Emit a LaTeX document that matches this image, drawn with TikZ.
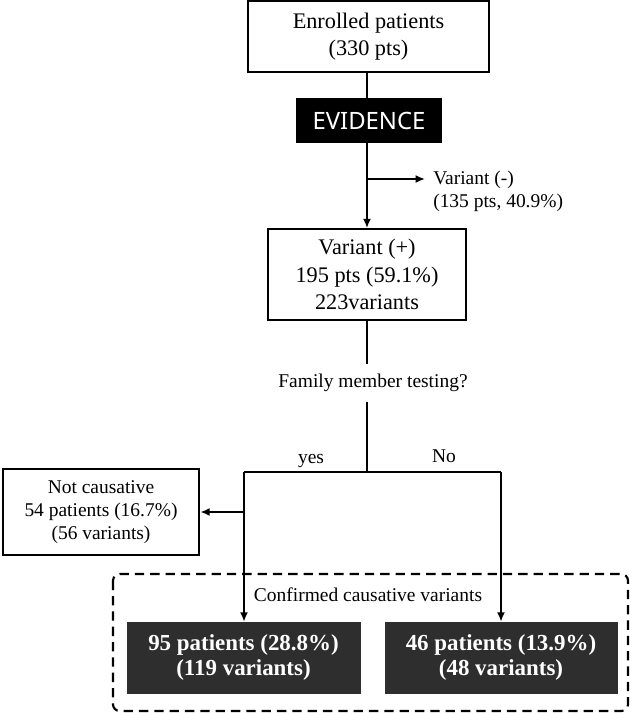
\documentclass[tikz,border=0pt]{standalone}
\usepackage{fontspec}
\setmainfont{Liberation Serif}
\newfontfamily\evfont{Noto Sans}
\usepackage{tikz}
\usetikzlibrary{arrows.meta,positioning}

\newcommand{\bigtxt}{\fontsize{16.7}{20.5}\selectfont}
\newcommand{\smalltxt}{\fontsize{14.6}{17}\selectfont}

\begin{document}
\begin{tikzpicture}
		[x=0.75pt,y=-0.75pt,
		box/.style={draw,line width=1.6pt,align=center,inner sep=0pt},
		darkbox/.style={fill=black!82,draw=black!82,text=white,align=center,inner sep=0pt,
			font=\fontsize{17.2}{19}\selectfont\bfseries,minimum height=53.25pt},
		lbl/.style={align=center,inner sep=0pt,font=\smalltxt},
		line/.style={line width=1.6pt},
		arr/.style={line width=1.6pt,-{Latex[length=7pt,width=6pt]}}]
		\useasboundingbox (0,0) rectangle (632,713);
		% top part
		\node[box,font=\bigtxt,minimum width=181pt,minimum height=53pt] (enrolled) at (368.5,36.5)
			{Enrolled patients\\(330 pts)};
		\node[fill=black,text=white,inner sep=0pt,minimum width=109.5pt,minimum height=33.75pt,
			font=\evfont\bfseries\fontsize{17.9}{20}\selectfont] (evidence) at (369,120.5) {EVIDENCE};
		\node[box,font=\bigtxt,minimum width=149pt,minimum height=68pt] (varplus) at (367,274.5)
			{Variant (+)\\195 pts (59.1\%)\\223variants};
		\node[lbl,align=left,anchor=west] (varminus) at (433,191)
			{Variant (-)\\(135 pts, 40.9\%)};
		\coordinate (split1) at (367,179);
		\coordinate (minustip) at (425,179);
		\draw[line] (enrolled.south -| split1) -- (split1 |- evidence.north);
		\draw[line] (split1 |- evidence.south) -- (split1);
		\draw[arr] (split1) -- (varplus.north);
		\draw[arr] (split1) -- (minustip);
		% family testing
		\node[lbl] (family) at (373,383) {Family member testing?};
		\coordinate (split2) at (367,472);
		\coordinate (yes) at (244,472);
		\coordinate (no) at (501,472);
		\coordinate (yesmid) at (244,512);
		\draw[line] (varplus.south) -- (367,364);
		\draw[line] (367,402) -- (split2);
		\draw[line] (yes) -- (no);
		\node[lbl,anchor=base] (yeslbl) at (311,463) {yes};
		\node[lbl,anchor=base] (nolbl) at (444,462) {No};
		\node[box,font=\smalltxt,minimum width=147.5pt,minimum height=65pt] (notcaus) at (101,512)
			{Not causative\\54 patients (16.7\%)\\(56 variants)};
		\draw[arr] (yesmid) -- (notcaus.east);
		% confirmed
		\draw[line width=1.6pt,dash pattern=on 7pt off 4.5pt,rounded corners=5pt]
			(113,574) rectangle (628,711);
		\node[lbl] (conf) at (368,595) {Confirmed causative variants};
		\node[darkbox,minimum width=174.75pt] (left) at (243.5,657.5)
			{95 patients (28.8\%)\\(119 variants)};
		\node[darkbox,minimum width=174pt] (right) at (501,657.5)
			{46 patients (13.9\%)\\(48 variants)};
		\draw[arr] (yes) -- (yes |- left.north);
		\draw[arr] (no) -- (no |- right.north);
\end{tikzpicture}
\end{document}
